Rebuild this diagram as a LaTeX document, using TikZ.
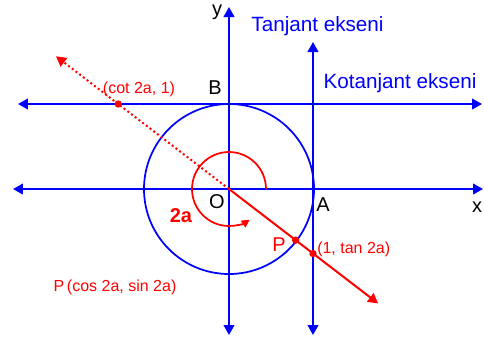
\documentclass[tikz,border=0pt]{standalone}
\usepackage{fontspec}
\setmainfont{Liberation Sans}
\usetikzlibrary{arrows.meta}
\definecolor{axisBlue}{RGB}{0,0,255}
\definecolor{angRed}{RGB}{255,0,0}

\begin{document}
\begin{tikzpicture}[x=0.75pt, y=0.75pt, >={Triangle[length=7.5pt,width=8pt]},
  axis/.style={axisBlue, line width=1.5pt, <->},
  lbl/.style={font=\fontsize{15}{18}\selectfont, inner sep=0pt},
  bluelbl/.style={lbl, text=axisBlue, font=\fontsize{15.5}{18}\selectfont},
  redlbl/.style={text=angRed, font=\fontsize{12}{14}\selectfont, inner sep=0pt},
  dot/.style={circle, fill=angRed, inner sep=0pt, minimum size=5.5pt}]
\useasboundingbox (-229,-148) rectangle (255,189);
% axes, unit circle, tangent and cotangent axes
\coordinate (O) at (0,0);
\coordinate (xl) at (-216,0);
\coordinate (xr) at (254,0);
\coordinate (yb) at (0,-146);
\coordinate (yt) at (0,182);
\coordinate (tb) at (84,-146);
\coordinate (tt) at (84,147);
\coordinate (cl) at (-211,85);
\coordinate (cr) at (253,85);
\draw[axis] (xl) -- (xr);
\draw[axis] (yb) -- (yt);
\draw[axis] (tb) -- (tt);
\draw[axis] (cl) -- (cr);
\draw[axisBlue, line width=1.3pt] (O) circle[radius=85];
% angle 2a
\draw[angRed, line width=1.3pt, -{Triangle[length=6pt,width=6pt]}]
  (37,0) arc[start angle=0, end angle=304, radius=37];
\coordinate (rayEnd) at (-37.5:188);
\coordinate (rayBack) at (142.5:218);
\draw[angRed, line width=1.5pt, ->] (O) -- (rayEnd);
\draw[angRed, line width=1.5pt, dotted, ->] (O) -- (rayBack);
\node[dot] (P) at (-37.5:84) {};
\node[dot] (T) at (84,-64.5) {};
\node[dot] (C) at (-110.8,85) {};
% labels
\node[lbl] (ylbl) at (-12,177) {y};
\node[lbl] (xlbl) at (248,-18) {x};
\node[lbl] (Blbl) at (-14,101) {B};
\node[lbl] (Olbl) at (-12,-13) {O};
\node[lbl] (Albl) at (94,-16) {A};
\node[lbl, text=angRed, font=\fontsize{15}{18}\selectfont\bfseries] (anglbl) at (-48,-27) {2a};
\node[redlbl, font=\fontsize{15}{18}\selectfont] (Plbl) at (50,-56) {P};
\node[redlbl, anchor=west] (Tlbl) at (88,-60) {(1, tan 2a)};
\node[redlbl] (Clbl) at (-90,100) {(cot 2a, 1)};
\node[redlbl] (Pcoord) at (-114,-98) {P\,(cos 2a, sin 2a)};
\node[bluelbl] (tanlbl) at (88.5,163) {Tanjant ekseni};
\node[bluelbl] (cotlbl) at (171,106) {Kotanjant ekseni};
\end{tikzpicture}
\end{document}
